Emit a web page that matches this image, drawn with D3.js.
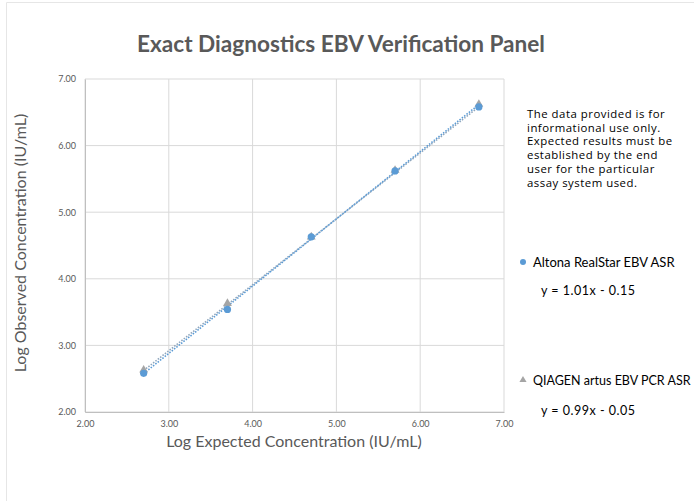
<!DOCTYPE html>
<html><head><meta charset="utf-8">
<script src="https://cdn.jsdelivr.net/npm/d3@7"></script>
<style>body{margin:0;background:#fff}svg{display:block}text{font-family:Lato,"Open Sans",sans-serif}</style>
</head><body>
<script>
const title = "Exact Diagnostics EBV Verification Panel";
const xLabel = "Log Expected Concentration (IU/mL)";
const yLabel = "Log Observed Concentration (IU/mL)";
const xTicks = [2, 3, 4, 5, 6, 7];
const yTicks = [2, 3, 4, 5, 6, 7];
const expected = [2.7, 3.7, 4.7, 5.7, 6.7];
const altona = [2.58, 3.54, 4.63, 5.62, 6.58];
const qiagen = [2.63, 3.63, 4.63, 5.63, 6.62];
const altonaFit = {slope: 1.01, intercept: -0.15, label: "y = 1.01x - 0.15"};
const qiagenFit = {slope: 0.99, intercept: -0.05, label: "y = 0.99x - 0.05"};
const seriesNames = ["Altona RealStar EBV ASR", "QIAGEN artus EBV PCR ASR"];
const note = ["The data provided is for", "informational use only.", "Expected results must be", "established by the end", "user for the particular", "assay system used."];

const W = 694, H = 502;
const svg = d3.select("body").append("svg").attr("width", W).attr("height", H);
svg.append("rect").attr("width", W).attr("height", H).attr("fill", "#fff");
svg.append("path").attr("d", "M6.5,501 V2.5 H694").attr("fill", "none").attr("stroke", "#e6e6e6");

const x = d3.scaleLinear().domain([2, 7]).range([85, 504]);
const y = d3.scaleLinear().domain([2, 7]).range([412, 79]);
const grid = "#d9d9d9", tickCol = "#595959";

const g = svg.append("g");
g.selectAll(".vg").data(xTicks).join("line")
  .attr("x1", d => x(d)).attr("x2", d => x(d)).attr("y1", y(7)).attr("y2", y(2))
  .attr("stroke", grid).attr("stroke-width", 1);
g.selectAll(".hg").data(yTicks).join("line")
  .attr("x1", x(2)).attr("x2", x(7)).attr("y1", d => y(d)).attr("y2", d => y(d))
  .attr("stroke", grid).attr("stroke-width", 1);

const xAxis = svg.append("g").attr("transform", `translate(0,${y(2)})`)
  .call(d3.axisBottom(x).tickValues(xTicks).tickFormat(d3.format(".2f")).tickSize(0).tickPadding(9));
xAxis.select(".domain").attr("stroke", "#bfbfbf");
xAxis.selectAll("text").attr("fill", tickCol).attr("font-size", 9);
const yAxis = svg.append("g").attr("transform", `translate(${x(2)},0)`)
  .call(d3.axisLeft(y).tickValues(yTicks).tickFormat(d3.format(".2f")).tickSize(0).tickPadding(9));
yAxis.select(".domain").attr("stroke", "#bfbfbf");
yAxis.selectAll("text").attr("fill", tickCol).attr("font-size", 9);

function trend(fit, color) {
  const xs = [d3.min(expected), d3.max(expected)];
  svg.append("line")
    .attr("x1", x(xs[0])).attr("y1", y(fit.slope * xs[0] + fit.intercept))
    .attr("x2", x(xs[1])).attr("y2", y(fit.slope * xs[1] + fit.intercept))
    .attr("stroke", color).attr("stroke-width", 1.6).attr("stroke-dasharray", "1.5,1.5");
}
trend(qiagenFit, "#8fa6bd");
trend(altonaFit, "#5b9bd5");

const tri = d3.symbol().type(d3.symbolTriangle).size(34);
svg.selectAll(".q").data(expected).join("path")
  .attr("d", tri).attr("transform", (d, i) => `translate(${x(d)},${y(qiagen[i])})`)
  .attr("fill", "#a5a5a5");
svg.selectAll(".a").data(expected).join("circle")
  .attr("cx", d => x(d)).attr("cy", (d, i) => y(altona[i])).attr("r", 3.6)
  .attr("fill", "#5b9bd5");

svg.append("text").attr("x", 341).attr("y", 52).attr("text-anchor", "middle")
  .attr("font-size", 22.6).attr("font-weight", "bold").attr("fill", "#595959").text(title);
svg.append("text").attr("x", 294).attr("y", 447).attr("text-anchor", "middle")
  .attr("font-size", 16).attr("fill", "#595959").text(xLabel);
svg.append("text").attr("transform", "translate(26,243) rotate(-90)").attr("text-anchor", "middle")
  .attr("font-size", 16).attr("fill", "#595959").text(yLabel);

svg.append("text").attr("x", 527).attr("y", 118).attr("font-size", 11.4).attr("letter-spacing", 0.5).attr("fill", "#000")
  .style("font-family", "'Open Sans',sans-serif")
  .selectAll("tspan").data(note).join("tspan").attr("x", 527).attr("dy", (d, i) => i ? 13.7 : 0).text(d => d);

svg.append("circle").attr("cx", 523).attr("cy", 262).attr("r", 3).attr("fill", "#5b9bd5");
svg.append("text").attr("x", 533).attr("y", 267).attr("font-size", 13).attr("fill", "#000").text(seriesNames[0]);
svg.append("text").attr("x", 541).attr("y", 295).attr("font-size", 12.5).attr("letter-spacing", 0.5).attr("fill", "#000").text(altonaFit.label);
svg.append("path").attr("d", d3.symbol().type(d3.symbolTriangle).size(22))
  .attr("transform", "translate(523,380)").attr("fill", "#a5a5a5");
svg.append("text").attr("x", 533).attr("y", 385).attr("font-size", 12.5).attr("fill", "#000").text(seriesNames[1]);
svg.append("text").attr("x", 541).attr("y", 415).attr("font-size", 12.5).attr("letter-spacing", 0.5).attr("fill", "#000").text(qiagenFit.label);
</script>
</body></html>
